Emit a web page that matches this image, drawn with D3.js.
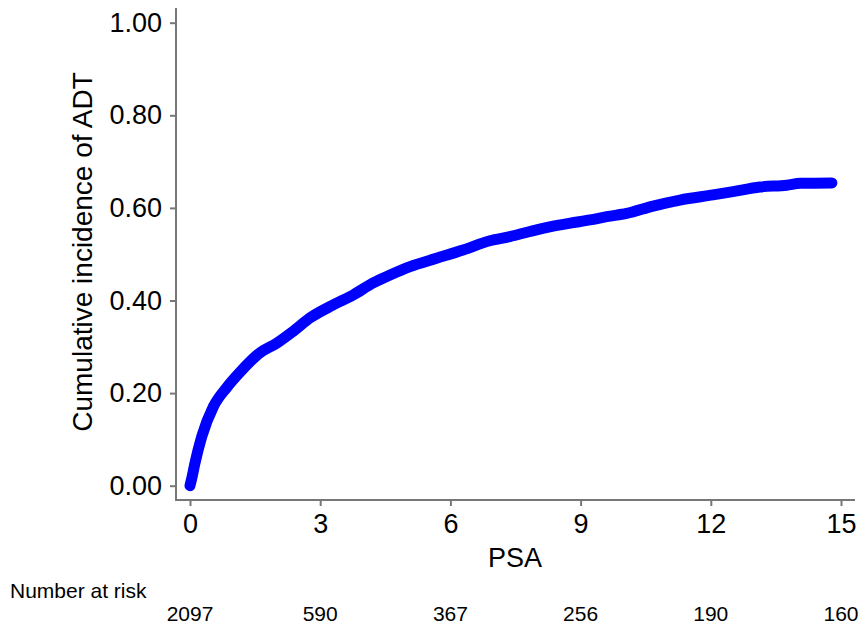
<!DOCTYPE html>
<html>
<head>
<meta charset="utf-8">
<script src="https://cdn.jsdelivr.net/npm/d3@7"></script>
<style>
  body { margin: 0; background: #fff; }
  svg text { font-family: "Liberation Sans", Arial, sans-serif; fill: #000; }
</style>
</head>
<body>
<div id="chart"></div>
<script>
// PSA (x) and cumulative incidence (y)
let psa = [0, 0.05, 0.115, 0.27, 0.54, 0.845, 1.15, 1.61, 2.0, 2.37, 2.76, 3.29, 3.76, 4.22,
           4.61, 5.07, 5.68, 6.29, 6.91, 7.37, 7.83, 8.29, 8.76, 9.22, 9.6, 10.06, 10.67,
           11.29, 12.05, 12.51, 13.13, 13.75, 14.06, 14.79];
let cif = [0, 0.02, 0.049, 0.106, 0.171, 0.212, 0.245, 0.287, 0.308, 0.333, 0.362, 0.39, 0.412, 0.438,
           0.455, 0.473, 0.491, 0.509, 0.529, 0.538, 0.549, 0.559, 0.567, 0.574, 0.581, 0.588, 0.604,
           0.617, 0.628, 0.635, 0.645, 0.649, 0.653, 0.654];

let xTicks = [0, 3, 6, 9, 12, 15];
let yTicks = [0, 0.2, 0.4, 0.6, 0.8, 1.0];
let atRisk = [2097, 590, 367, 256, 190, 160];

let width = 862, height = 631;
let axisColor = '#777';

let x = d3.scaleLinear().domain([0, 15]).range([190, 841]);
let y = d3.scaleLinear().domain([0, 1]).range([485.7, 22.7]);

let svg = d3.select('#chart').append('svg')
    .attr('width', width)
    .attr('height', height);

// axes
let xAxis = svg.append('g')
    .attr('transform', 'translate(0,500)')
    .call(d3.axisBottom(x).tickValues(xTicks).tickSize(6).tickPadding(8).tickFormat(d3.format('d')));
let yAxis = svg.append('g')
    .attr('transform', 'translate(176,0)')
    .call(d3.axisLeft(y).tickValues(yTicks).tickSize(6).tickPadding(8).tickFormat(d3.format('.2f')));

[xAxis, yAxis].forEach(function(a){
    a.select('.domain').remove();
    a.selectAll('.tick line').attr('stroke', axisColor).attr('stroke-width', 2);
    a.selectAll('.tick text')
        .style('font-family', '"Liberation Sans", Arial, sans-serif')
        .style('font-size', '27px')
        .attr('fill', '#000');
});

svg.append('line')
    .attr('x1', 176).attr('x2', 176).attr('y1', 8).attr('y2', 501)
    .attr('stroke', axisColor).attr('stroke-width', 2);
svg.append('line')
    .attr('x1', 175).attr('x2', 855).attr('y1', 500).attr('y2', 500)
    .attr('stroke', axisColor).attr('stroke-width', 2);

// curve
let line = d3.line()
    .x(function(d, i){ return x(psa[i]); })
    .y(function(d, i){ return y(cif[i]); })
    .curve(d3.curveMonotoneX);

svg.append('path')
    .datum(cif)
    .attr('d', line)
    .attr('fill', 'none')
    .attr('stroke', '#0000ff')
    .attr('stroke-width', 11)
    .attr('stroke-linecap', 'round')
    .attr('stroke-linejoin', 'round');

// titles
svg.append('text')
    .attr('x', 515).attr('y', 567)
    .attr('text-anchor', 'middle')
    .style('font-size', '27px')
    .text('PSA');

svg.append('text')
    .attr('transform', 'translate(92,252) rotate(-90)')
    .attr('text-anchor', 'middle')
    .style('font-size', '28px')
    .text('Cumulative incidence of ADT');

// number at risk
svg.append('text')
    .attr('x', 10).attr('y', 598)
    .style('font-size', '21px')
    .text('Number at risk');

svg.append('g').selectAll('text')
    .data(atRisk)
    .enter()
    .append('text')
    .attr('x', function(d, i){ return x(xTicks[i]); })
    .attr('y', 621)
    .attr('text-anchor', 'middle')
    .style('font-size', '21px')
    .text(function(d){ return d; });
</script>
</body>
</html>
